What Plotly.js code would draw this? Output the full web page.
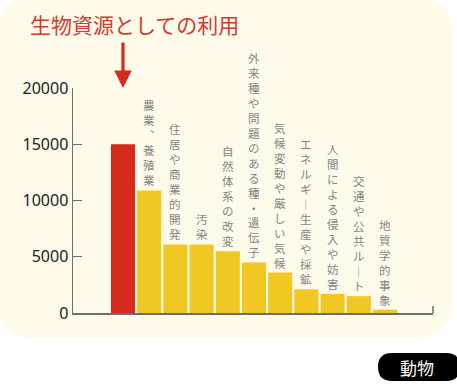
<!DOCTYPE html>
<html>
<head>
<meta charset="utf-8">
<script src="https://cdn.plot.ly/plotly-3.0.1.min.js"></script>
<style>
html,body{margin:0;padding:0;background:#fff;}
#chart{width:457px;height:389px;}
</style>
</head>
<body>
<div id="chart"></div>
<script>
// ---- data ----
const categories = [
  "生物資源としての利用",
  "農業、養殖業",
  "住居や商業的開発",
  "汚染",
  "自然体系の改変",
  "外来種や問題のある種・遺伝子",
  "気候変動や厳しい気候",
  "エネルギー生産や採鉱",
  "人間による侵入や妨害",
  "交通や公共ルート",
  "地質学的事象"
];
const values = [15000, 10900, 6100, 6100, 5500, 4500, 3600, 2100, 1700, 1500, 300];
const tickValues = [0, 5000, 10000, 15000, 20000];
const tickLabels = ["0", "5000", "10000", "15000", "20000"];
const badgeText = "動物";

// ---- geometry helpers (pixel -> paper) ----
const L = 73, W = 360, T = 88, H = 225;
function P(px, py) { return ((px - L) / W).toFixed(4) + ',' + ((T + H - py) / H).toFixed(4); }
function roundRect(x0, y0, x1, y1, r) {
  return 'M ' + P(x0 + r, y0) + ' L ' + P(x1 - r, y0) + ' Q ' + P(x1, y0) + ' ' + P(x1, y0 + r) +
         ' L ' + P(x1, y1 - r) + ' Q ' + P(x1, y1) + ' ' + P(x1 - r, y1) +
         ' L ' + P(x0 + r, y1) + ' Q ' + P(x0, y1) + ' ' + P(x0, y1 - r) +
         ' L ' + P(x0, y0 + r) + ' Q ' + P(x0, y0) + ' ' + P(x0 + r, y0) + ' Z';
}

const RED = '#D62A1C', YELLOW = '#F1C823', LABEL = '#858585';
const JP = '"Noto Sans CJK JP", "Noto Sans", sans-serif';

// vertical-writing presentation forms for stacked (tategaki) labels
const VERT = { 'ー': '︱', '、': '︑' };
function tategaki(s) { return Array.from(s).map(c => VERT[c] || c).join('<br>'); }

const trace = {
  type: 'bar',
  x: categories,
  y: values,
  marker: { color: values.map((v, i) => i === 0 ? RED : YELLOW), line: { width: 0 } },
  hoverinfo: 'skip'
};

const annotations = [];
// title for the first (red) bar
annotations.push({
  xref: 'paper', yref: 'paper', x: (28 - L) / W, y: (T + H - 24) / H,
  xanchor: 'left', yanchor: 'middle', showarrow: false,
  text: categories[0], font: { family: JP, size: 21, color: '#D43A2E' }
});
// arrow pointing to the red bar
annotations.push({
  xref: 'x', yref: 'y', x: categories[0], y: 20000,
  ax: 0, ay: -47, axref: 'pixel', ayref: 'pixel',
  text: '', showarrow: true, arrowhead: 2, arrowsize: 1.1, arrowwidth: 3.2,
  arrowcolor: '#D62A1C', standoff: 0
});
// vertical labels above each remaining bar
for (let i = 1; i < categories.length; i++) {
  annotations.push({
    xref: 'x', yref: 'y', x: categories[i], y: values[i],
    xanchor: 'center', yanchor: 'bottom', yshift: 1, borderpad: 0,
    showarrow: false, text: tategaki(categories[i]), align: 'center',
    font: { family: JP, size: 11.5, color: LABEL }
  });
}
// badge text
annotations.push({
  xref: 'paper', yref: 'paper', x: (417 - L) / W, y: (T + H - 367) / H,
  xanchor: 'center', yanchor: 'middle', showarrow: false,
  text: badgeText, font: { family: JP, size: 17, color: '#ffffff' }
});

const shapes = [
  { type: 'path', xref: 'paper', yref: 'paper', layer: 'below',
    path: roundRect(-3, -3, 452, 338, 36), fillcolor: '#FFFAEA', line: { width: 0 } },
  { type: 'path', xref: 'paper', yref: 'paper', layer: 'above',
    path: roundRect(378, 353, 460, 381, 14), fillcolor: '#000000', line: { width: 0 } },
  { type: 'line', xref: 'paper', yref: 'paper', x0: 1, x1: 1, y0: 0, y1: 7 / H,
    line: { color: '#6e6e6e', width: 1.5 } }
];

const layout = {
  width: 457, height: 389,
  margin: { l: L, r: 457 - L - W, t: T, b: 389 - T - H, pad: 0 },
  paper_bgcolor: '#ffffff', plot_bgcolor: 'rgba(0,0,0,0)',
  showlegend: false,
  bargap: 0.08,
  xaxis: {
    type: 'category', range: [-1.908, 11.832],
    showline: true, linecolor: '#6e6e6e', linewidth: 1.5,
    showticklabels: false, ticks: '', showgrid: false, zeroline: false, fixedrange: true
  },
  yaxis: {
    range: [0, 20000], tickvals: tickValues, ticktext: tickLabels,
    showline: true, linecolor: '#6e6e6e', linewidth: 1.5,
    ticks: 'inside', ticklen: 9, tickwidth: 1.2, tickcolor: '#6e6e6e',
    showgrid: false, zeroline: false, fixedrange: true,
    tickfont: { family: '"Noto Sans", sans-serif', size: 16, color: '#222222' }
  },
  annotations: annotations,
  shapes: shapes
};

Plotly.newPlot('chart', [trace], layout, { staticPlot: true, displayModeBar: false });
</script>
</body>
</html>
